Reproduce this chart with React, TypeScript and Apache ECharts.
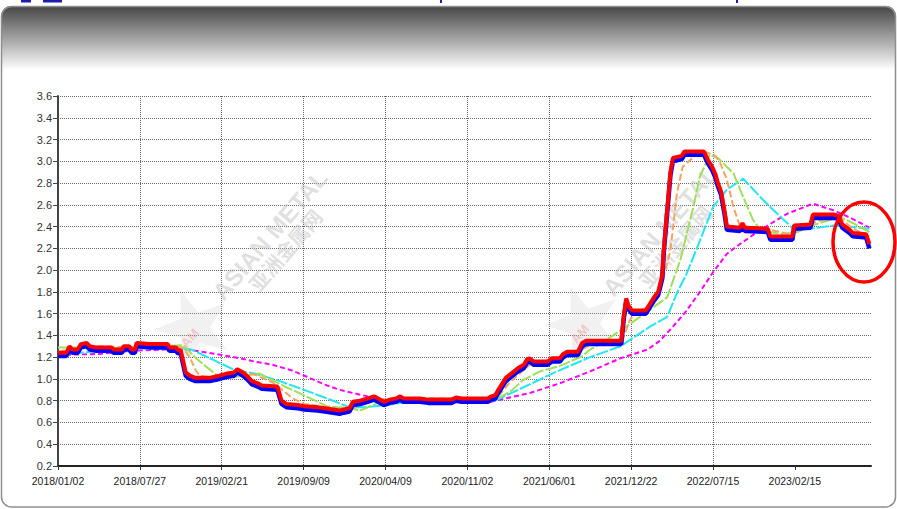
import React, { useEffect, useRef } from "react";
import * as echarts from "echarts";

// X positions are trading-day units: 100 units per labelled step.
const xTickLabels = [
  "2018/01/02", "2018/07/27", "2019/02/21", "2019/09/09", "2020/04/09",
  "2020/11/02", "2021/06/01", "2021/12/22", "2022/07/15", "2023/02/15",
];
const xStep = 100;
const xMax = 993;

const priceX = [
  0, 10, 14, 18, 24, 28, 35, 39, 46, 65, 68, 78, 80, 87, 90, 94, 96, 112, 134, 136,
  144, 146, 150, 156, 161, 168, 185, 197, 207, 215, 219, 226, 232, 237, 244, 249, 268, 273, 279, 293,
  301, 317, 326, 336, 344, 349, 356, 360, 369, 378, 386, 391, 398, 405, 413, 418, 422, 442, 452, 481,
  486, 493, 525, 529, 534, 537, 542, 547, 552, 557, 562, 569, 573, 576, 581, 598, 603, 613, 617, 622,
  635, 640, 645, 688, 691, 694, 697, 701, 718, 723, 728, 733, 738, 740, 744, 748, 751, 762, 765, 789,
  794, 799, 803, 806, 810, 814, 817, 833, 836, 839, 867, 870, 897, 899, 919, 922, 948, 953, 958, 967,
  971, 987, 991,
];
const highPrice = [
  1.24, 1.24, 1.30, 1.27, 1.27, 1.32, 1.33, 1.30, 1.29, 1.29, 1.27, 1.27, 1.30, 1.30, 1.27, 1.27, 1.33, 1.32, 1.32, 1.29,
  1.29, 1.27, 1.26, 1.06, 1.03, 1.01, 1.01, 1.03, 1.05, 1.06, 1.09, 1.06, 1.02, 0.98, 0.96, 0.94, 0.93, 0.80, 0.77, 0.76,
  0.75, 0.74, 0.73, 0.72, 0.71, 0.72, 0.73, 0.79, 0.80, 0.82, 0.84, 0.82, 0.79, 0.81, 0.82, 0.84, 0.82, 0.82, 0.81, 0.81,
  0.83, 0.82, 0.82, 0.84, 0.85, 0.89, 0.95, 1.01, 1.04, 1.07, 1.10, 1.13, 1.18, 1.19, 1.16, 1.16, 1.19, 1.19, 1.23, 1.25,
  1.25, 1.33, 1.35, 1.35, 1.58, 1.74, 1.67, 1.63, 1.63, 1.69, 1.75, 1.80, 1.95, 2.20, 2.55, 2.90, 3.03, 3.05, 3.09, 3.09,
  3.01, 2.95, 2.88, 2.80, 2.72, 2.55, 2.40, 2.39, 2.43, 2.39, 2.38, 2.31, 2.31, 2.41, 2.42, 2.51, 2.51, 2.50, 2.42, 2.37,
  2.34, 2.33, 2.24,
];
const lowPrice = [
  1.21, 1.21, 1.27, 1.24, 1.24, 1.29, 1.30, 1.27, 1.26, 1.26, 1.24, 1.24, 1.27, 1.27, 1.24, 1.24, 1.30, 1.29, 1.29, 1.26,
  1.26, 1.24, 1.23, 1.03, 1.00, 0.98, 0.98, 1.00, 1.02, 1.03, 1.06, 1.03, 0.99, 0.95, 0.93, 0.91, 0.90, 0.77, 0.74, 0.73,
  0.72, 0.71, 0.70, 0.69, 0.68, 0.69, 0.70, 0.76, 0.77, 0.79, 0.81, 0.79, 0.76, 0.78, 0.79, 0.81, 0.79, 0.79, 0.78, 0.78,
  0.80, 0.79, 0.79, 0.81, 0.82, 0.86, 0.92, 0.98, 1.01, 1.04, 1.07, 1.10, 1.15, 1.16, 1.13, 1.13, 1.16, 1.16, 1.20, 1.22,
  1.22, 1.30, 1.32, 1.32, 1.55, 1.71, 1.64, 1.60, 1.60, 1.66, 1.72, 1.77, 1.92, 2.17, 2.52, 2.87, 3.00, 3.02, 3.06, 3.06,
  2.98, 2.92, 2.85, 2.77, 2.69, 2.52, 2.37, 2.36, 2.40, 2.36, 2.35, 2.28, 2.28, 2.38, 2.39, 2.48, 2.48, 2.47, 2.39, 2.34,
  2.31, 2.30, 2.20,
];

const maShortX = [
  0, 26, 51, 87, 112, 142, 152, 161, 168, 173, 191, 210, 222, 240, 262, 277, 287, 301, 320, 344,
  359, 369, 387, 405, 442, 491, 528, 540, 552, 564, 576, 589, 613, 631, 650, 674, 689, 699, 711, 723,
  735, 748, 756, 763, 778, 793, 803, 809, 817, 825, 833, 845, 870, 894, 907, 925, 943, 955, 971, 991,
];
const maShort = [
  1.25, 1.29, 1.30, 1.29, 1.31, 1.30, 1.29, 1.20, 1.08, 1.03, 1.01, 1.04, 1.06, 1.04, 0.97, 0.88, 0.82, 0.77, 0.75, 0.72,
  0.72, 0.77, 0.82, 0.81, 0.82, 0.82, 0.82, 0.86, 0.97, 1.05, 1.13, 1.16, 1.18, 1.24, 1.31, 1.35, 1.35, 1.55, 1.64, 1.65,
  1.80, 2.18, 2.71, 2.95, 3.05, 3.08, 3.05, 2.98, 2.83, 2.58, 2.40, 2.40, 2.37, 2.33, 2.37, 2.44, 2.49, 2.48, 2.38, 2.31,
];

const maMidX = [
  0, 39, 87, 124, 153, 167, 183, 195, 216, 228, 246, 259, 277, 295, 314, 328, 356, 369, 385, 393,
  418, 454, 503, 534, 552, 568, 589, 613, 638, 650, 662, 690, 711, 744, 760, 776, 784, 796, 806, 825,
  837, 849, 858, 882, 903, 925, 955, 974, 991,
];
const maMid = [
  1.29, 1.29, 1.28, 1.30, 1.31, 1.20, 1.10, 1.03, 1.02, 1.03, 1.05, 1.00, 0.93, 0.87, 0.80, 0.75, 0.73, 0.71, 0.76, 0.79,
  0.80, 0.81, 0.81, 0.81, 0.88, 0.99, 1.07, 1.12, 1.20, 1.27, 1.32, 1.46, 1.57, 1.75, 2.09, 2.58, 2.86, 3.06, 3.03, 2.89,
  2.67, 2.46, 2.37, 2.33, 2.35, 2.42, 2.49, 2.42, 2.35,
];

const maLongX = [
  0, 26, 63, 100, 136, 163, 191, 216, 240, 271, 304, 336, 356, 375, 402, 426, 454, 503, 534, 576,
  601, 625, 650, 687, 723, 744, 756, 768, 784, 800, 817, 837, 858, 874, 891, 898, 919, 947, 991,
];
const maLong = [
  1.22, 1.24, 1.26, 1.28, 1.28, 1.27, 1.17, 1.08, 1.05, 0.98, 0.89, 0.80, 0.74, 0.74, 0.76, 0.79, 0.80, 0.80, 0.80, 0.95,
  1.04, 1.12, 1.20, 1.30, 1.48, 1.57, 1.79, 1.97, 2.27, 2.58, 2.74, 2.84, 2.67, 2.55, 2.43, 2.38, 2.38, 2.41, 2.38,
];

const maYearX = [
  0, 51, 90, 130, 158, 200, 222, 240, 262, 285, 304, 325, 344, 372, 405, 451, 487, 528, 576, 613, 650, 687,
  720, 735, 751, 767, 784, 800, 817, 833, 858, 891, 922, 947, 968, 991,
];
const maYear = [
  1.22, 1.23, 1.26, 1.27, 1.27, 1.22, 1.19, 1.16, 1.13, 1.08, 1.02, 0.95, 0.90, 0.85, 0.80, 0.78, 0.79, 0.79, 0.87, 0.96, 1.07, 1.19,
  1.27, 1.35, 1.48, 1.62, 1.80, 1.98, 2.15, 2.24, 2.37, 2.52, 2.61, 2.55, 2.48, 2.39,
];

const yMin = 0.2;
const yMax = 3.6;
const yStep = 0.2;

const FONT = "'Liberation Sans', Arial, sans-serif";

function pairs(xs: number[], ys: number[]) {
  return xs.map((x, i) => [x, ys[i]]);
}

function starPoints(cx: number, cy: number, R: number, r: number, rot: number) {
  const pts: number[][] = [];
  for (let i = 0; i < 10; i++) {
    const a = rot + (i * Math.PI) / 5;
    const rr = i % 2 ? r : R;
    pts.push([cx + rr * Math.sin(a), cy - rr * Math.cos(a)]);
  }
  return pts;
}

function watermark(dx: number, dy: number) {
  const rot = (49.5 * Math.PI) / 180;
  return [
    {
      type: "polygon",
      shape: { points: starPoints(194 + dx, 328 + dy, 40, 16, -0.35) },
      style: { fill: "rgba(190,190,190,0.22)" },
      z: 1,
      silent: true,
    },
    {
      type: "text",
      x: 190 + dx,
      y: 338 + dy,
      rotation: rot,
      style: {
        text: "AM",
        fill: "rgba(235,120,120,0.35)",
        font: "bold 13px " + FONT,
        align: "center",
        verticalAlign: "middle",
      },
      z: 1,
      silent: true,
    },
    {
      type: "text",
      x: 270 + dx,
      y: 235 + dy,
      rotation: rot,
      style: {
        text: "ASIAN METAL",
        fill: "rgba(185,185,185,0.45)",
        font: "bold 24px " + FONT,
        align: "center",
        verticalAlign: "middle",
      },
      z: 1,
      silent: true,
    },
    {
      type: "text",
      x: 285 + dx,
      y: 250 + dy,
      rotation: rot,
      style: {
        text: "亚洲金属网",
        fill: "rgba(185,185,185,0.45)",
        font: "bold 20px 'Noto Sans CJK SC', sans-serif",
        align: "center",
        verticalAlign: "middle",
      },
      z: 1,
      silent: true,
    },
  ];
}

export default function App() {
  const ref = useRef<HTMLDivElement>(null);

  useEffect(() => {
    if (!ref.current) return;
    const chart = echarts.init(ref.current, undefined, { renderer: "svg" });
    const tickVals = xTickLabels.map((_, i) => i * xStep);

    const maLine = (name: string, xs: number[], ys: number[], color: string, type: any, width = 2) => ({
      name,
      type: "line",
      data: pairs(xs, ys),
      symbol: "none",
      showSymbol: false,
      silent: true,
      lineStyle: { color, width, type },
      z: 3,
    });

    chart.setOption({
      animation: false,
      backgroundColor: "#ffffff",
      grid: { left: 58, right: 26, top: 96, bottom: 43, containLabel: false },
      xAxis: {
        type: "value",
        min: 0,
        max: xMax,
        interval: xStep,
        axisLine: { show: true, onZero: false, lineStyle: { color: "#222", width: 2 } },
        axisTick: { show: true, length: 4, customValues: tickVals, lineStyle: { color: "#333", width: 1 } },
        axisLabel: {
          customValues: tickVals,
          margin: 9,
          fontSize: 10.5,
          fontFamily: FONT,
          color: "#222",
          formatter: (v: number) => {
            const i = Math.round(v / xStep);
            return Math.abs(v - i * xStep) < 0.001 && i < xTickLabels.length ? xTickLabels[i] : "";
          },
        },
        splitLine: {
          show: true,
          showMaxLine: false,
          lineStyle: { color: "#6a6a6a", width: 1, type: [1, 1] },
        },
      },
      yAxis: {
        type: "value",
        min: yMin,
        max: yMax,
        interval: yStep,
        axisLine: { show: true, lineStyle: { color: "#444", width: 2 } },
        axisTick: { show: true, length: 5, lineStyle: { color: "#444", width: 1 } },
        axisLabel: {
          margin: 6,
          fontSize: 11,
          fontFamily: FONT,
          color: "#333",
          formatter: (v: number) => v.toFixed(1),
        },
        splitLine: {
          show: true,
          lineStyle: { color: "#6a6a6a", width: 1, type: [1, 1] },
        },
      },
      graphic: [
        {
          type: "rect",
          shape: { x: 1, y: 6, width: 895, height: 64, r: [10, 10, 0, 0] },
          style: {
            fill: new echarts.graphic.LinearGradient(0, 0, 0, 1, [
              { offset: 0, color: "#464646" },
              { offset: 0.6, color: "#b4b4b4" },
              { offset: 1, color: "#ffffff" },
            ]),
          },
          z: 0,
          silent: true,
        },
        {
          type: "rect",
          shape: { x: 1.5, y: 6.5, width: 894, height: 500.5, r: 10 },
          style: { fill: "none", stroke: "#8e8e8e", lineWidth: 1.5 },
          z: 0,
          silent: true,
        },
        { type: "rect", shape: { x: 21, y: 0, width: 10, height: 2.5 }, style: { fill: "#1c1cb0" }, silent: true },
        { type: "rect", shape: { x: 43, y: 0, width: 19, height: 2.5 }, style: { fill: "#1c1cb0" }, silent: true },
        { type: "rect", shape: { x: 440, y: 0, width: 2, height: 3 }, style: { fill: "#1c1cb0" }, silent: true },
        { type: "rect", shape: { x: 736, y: 0, width: 2, height: 3 }, style: { fill: "#1c1cb0" }, silent: true },
        ...watermark(0, 0),
        ...watermark(390, -4),
        {
          type: "ellipse",
          shape: { cx: 864, cy: 242, rx: 31, ry: 40 },
          style: { fill: "none", stroke: "#ff0000", lineWidth: 3.5 },
          z: 20,
          silent: true,
        },
      ],
      series: [
        maLine("MA250", maYearX, maYear, "#ff00ff", [5, 3], 2),
        maLine("MA120", maLongX, maLong, "#22e6f0", [12, 2], 2),
        maLine("MA60", maMidX, maMid, "#9ee05a", [12, 2], 2),
        maLine("MA20", maShortX, maShort, "#f4a460", [7, 3], 2),
        {
          name: "Low",
          type: "line",
          data: pairs(priceX, lowPrice),
          symbol: "none",
          silent: true,
          lineStyle: { color: "#0000ff", width: 4.5 },
          z: 4,
        },
        {
          name: "High",
          type: "line",
          data: pairs(priceX, highPrice),
          symbol: "none",
          silent: true,
          lineStyle: { color: "#ff0000", width: 4 },
          z: 5,
        },
      ],
    });

    return () => chart.dispose();
  }, []);

  return (
    <div
      ref={ref}
      style={{ position: "fixed", left: 0, top: 0, width: 897, height: 509, background: "#fff" }}
    />
  );
}
